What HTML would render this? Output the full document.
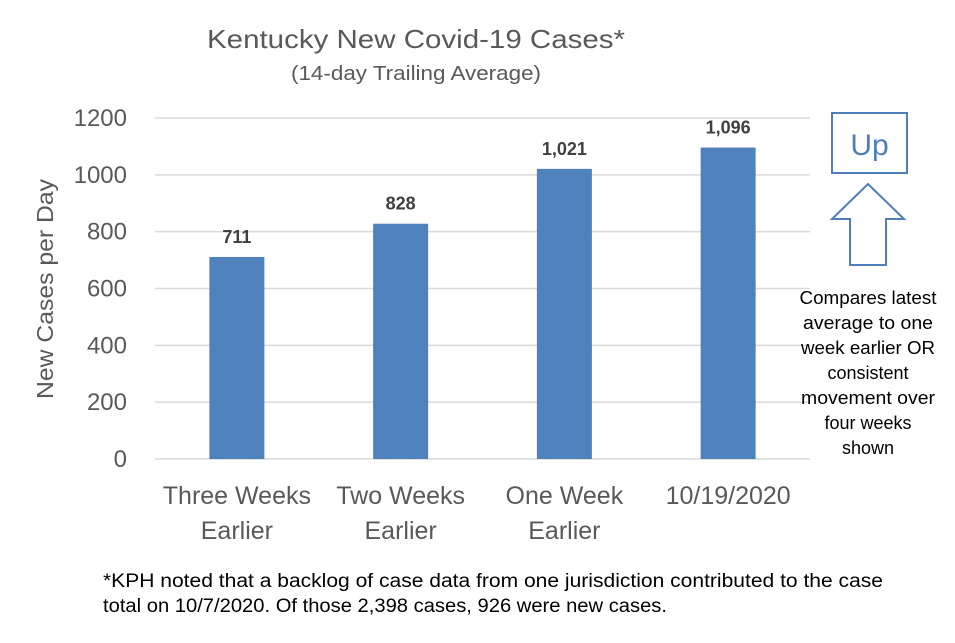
<!DOCTYPE html>
<html><head><meta charset="utf-8"><style>
body{margin:0;background:#fff;}
svg text{font-family:"Liberation Sans",sans-serif;}
</style></head><body>
<svg width="955" height="638">
<g id="grid"></g>
<g id="bars"></g>
<g id="labels"></g>
<g id="yt"></g>
<g id="xt"></g>
<text x="416" y="48" text-anchor="middle" font-size="26" fill="#595959" textLength="418" lengthAdjust="spacingAndGlyphs">Kentucky New Covid-19 Cases*</text>
<text x="416" y="80" text-anchor="middle" font-size="20" fill="#595959" textLength="250" lengthAdjust="spacingAndGlyphs">(14-day Trailing Average)</text>
<text transform="translate(53,289) rotate(-90)" text-anchor="middle" font-size="23" fill="#595959" textLength="220" lengthAdjust="spacingAndGlyphs">New Cases per Day</text>
<rect x="832" y="113" width="75" height="60" fill="none" stroke="#4f7ebb" stroke-width="2"/>
<text x="869.5" y="155" text-anchor="middle" font-size="30" fill="#4f7ebb">Up</text>
<polygon points="868,184 904,219 886,219 886,265 850,265 850,219 832,219" fill="none" stroke="#4f7ebb" stroke-width="2"/>
<g font-size="18" fill="#000" text-anchor="middle">
<text x="868" y="304" textLength="137" lengthAdjust="spacingAndGlyphs">Compares latest</text>
<text x="868" y="329" textLength="130" lengthAdjust="spacingAndGlyphs">average to one</text>
<text x="868" y="354" textLength="134" lengthAdjust="spacingAndGlyphs">week earlier OR</text>
<text x="868" y="379">consistent</text>
<text x="868" y="404" textLength="134" lengthAdjust="spacingAndGlyphs">movement over</text>
<text x="868" y="429">four weeks</text>
<text x="868" y="454">shown</text>
</g>
<g font-size="19" fill="#000">
<text x="103" y="587" textLength="780" lengthAdjust="spacingAndGlyphs">*KPH noted that a backlog of case data from one jurisdiction contributed to the case</text>
<text x="103" y="612" textLength="564" lengthAdjust="spacingAndGlyphs">total on 10/7/2020. Of those 2,398 cases, 926 were new cases.</text>
</g>
</svg>
<script>
const categories=[["Three Weeks","Earlier"],["Two Weeks","Earlier"],["One Week","Earlier"],["10/19/2020"]];
const values=[711,828,1021,1096];
const valueLabels=["711","828","1,021","1,096"];
const yTicks=[0,200,400,600,800,1000,1200];
const NS="http://www.w3.org/2000/svg";
const x0=155,x1=810,yBase=459,yTop=118,yMax=1200;
const y=v=>yBase-(yBase-yTop)*v/yMax;
const band=(x1-x0)/categories.length;
const xc=i=>x0+band*(i+0.5);
function mk(tag,attrs,parent){const e=document.createElementNS(NS,tag);for(const k in attrs)e.setAttribute(k,attrs[k]);document.getElementById(parent).appendChild(e);return e;}
yTicks.forEach(t=>{
 const l=mk('line',{x1:x0,x2:x1,y1:y(t),y2:y(t),stroke:'#d9d9d9','stroke-width':1.5},'grid');
 
 
 const tx=mk('text',{x:127,y:y(t)+8,'text-anchor':'end','font-size':24,fill:'#595959'},'yt');
 tx.textContent=t;
 
 
});
values.forEach((v,i)=>{
 const w=55;
 const r=mk('rect',{x:xc(i)-w/2,y:y(v),width:w,height:yBase-y(v),fill:'#4f81bd'},'bars');
 
 
 const t=mk('text',{x:xc(i),y:y(v)-14,'text-anchor':'middle','font-size':18,'font-weight':'bold',fill:'#404040'},'labels');
 t.textContent=valueLabels[i];
 
 
 categories[i].forEach((line,j)=>{
  const c=mk('text',{x:xc(i),y:504+j*35,'text-anchor':'middle','font-size':25,fill:'#595959'},'xt');
  c.textContent=line;
  
  
 });
});
</script>
</body></html>
